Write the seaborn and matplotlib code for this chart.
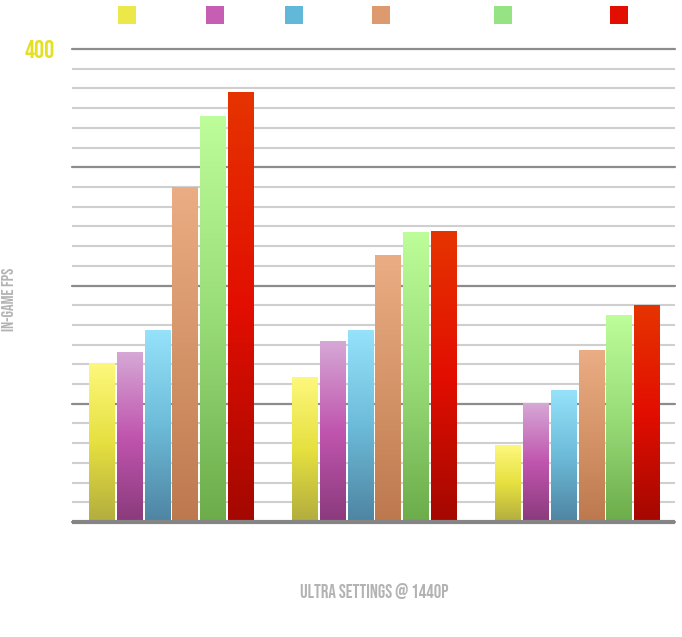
import numpy as np
import pandas as pd
import matplotlib
matplotlib.use("Agg")
import matplotlib.pyplot as plt
import seaborn as sns
from matplotlib.colors import LinearSegmentedColormap
from matplotlib.patches import Rectangle

# ---- data ----
groups = ["Group 1", "Group 2", "Group 3"]
series = ["Series 1", "Series 2", "Series 3", "Series 4", "Series 5", "Series 6"]
s1 = [134, 122, 65]
s2 = [143, 153, 100]
s3 = [162, 162, 111]
s4 = [283, 225, 145]
s5 = [343, 245, 175]
s6 = [363, 246, 183]
values = [s1, s2, s3, s4, s5, s6]

# gradient colours (bottom, middle, top) and legend swatch colours
grad_colors = [
    ["#b2ad3e", "#e6e040", "#fdf87c"],
    ["#8a3a7c", "#c055ae", "#d6a8d6"],
    ["#4e84a2", "#6cbbd8", "#96e2fb"],
    ["#bd784e", "#d59468", "#ebad84"],
    ["#6cac4a", "#98dc78", "#bdfd9a"],
    ["#a30800", "#e20e00", "#e63400"],
]
legend_colors = ["#ede84a", "#c65fb4", "#62b8d9", "#dd9a6e", "#96e384", "#e20f00"]

rows = []
for s, vals in zip(series, values):
    for g, v in zip(groups, vals):
        rows.append({"group": g, "series": s, "fps": v})
df = pd.DataFrame(rows)

sns.set_theme(style="white")
plt.rcParams["font.family"] = ["Bebas Neue", "DejaVu Sans"]

fig = plt.figure(figsize=(6.82, 6.37), dpi=100)
ax = fig.add_axes([72 / 682, 1 - 522 / 637, 603 / 682, 473 / 637])

sns.barplot(data=df, x="group", y="fps", hue="series", palette=legend_colors,
            width=0.82, gap=0.07, saturation=1, legend=False, ax=ax, errorbar=None)

grad = np.linspace(0, 1, 256).reshape(-1, 1)
for cont, cols in zip(ax.containers, grad_colors):
    cmap = LinearSegmentedColormap.from_list("g", cols)
    for bar in cont:
        x0, w, h = bar.get_x(), bar.get_width(), bar.get_height()
        bar.set_facecolor("none")
        bar.set_edgecolor("none")
        ax.imshow(grad, extent=[x0, x0 + w, 0, h], aspect="auto", cmap=cmap,
                  origin="lower", zorder=3, interpolation="bilinear")

ax.set_xlim(-0.49, 2.48)
ax.set_ylim(0, 400)

major = [0, 100, 200, 300, 400]
ax.set_yticks(major)
ax.set_yticklabels(["", "", "", "", "400"])
ax.set_yticks(np.arange(0, 401, 400 / 24), minor=True)
ax.tick_params(axis="y", which="both", length=0, pad=12, labelsize=18,
               labelcolor="#e6e022")
ax.grid(True, which="minor", axis="y", color="#cfcfcf", linewidth=1.5, zorder=0)
ax.grid(True, which="major", axis="y", color="#8c8c8c", linewidth=1.6, zorder=0)
for ln in ax.get_ygridlines():
    ln.set_clip_on(False)
ax.set_axisbelow(True)
ax.set_xticks([0, 1, 2])
ax.set_xticklabels(["", "", ""])
ax.tick_params(axis="x", length=0)

for sp in ["top", "right", "left"]:
    ax.spines[sp].set_visible(False)
ax.spines["bottom"].set_color("#858585")
ax.spines["bottom"].set_linewidth(3)
ax.spines["bottom"].set_capstyle("butt")
ax.spines["bottom"].set_zorder(4)

ax.set_xlabel("")
ax.set_ylabel("")
fig.text(374 / 682, 1 - 591 / 637, "ULTRA SETTINGS @ 1440p", ha="center", va="center",
         color="#b3b3b3", fontsize=13.5)
fig.text(8 / 682, 1 - 299 / 637, "IN-GAME FPS", ha="center", va="center",
         rotation=90, color="#b3b3b3", fontsize=12)

# legend swatches (label text is not visible in the reference)
leg_x = [118, 206, 285, 372, 494, 610]
for xl, c in zip(leg_x, legend_colors):
    fig.add_artist(Rectangle((xl / 682, 1 - 24 / 637), 18 / 682, 18 / 637,
                             transform=fig.transFigure, facecolor=c,
                             edgecolor="none"))

fig.savefig("out.png", dpi=100, facecolor="white")
